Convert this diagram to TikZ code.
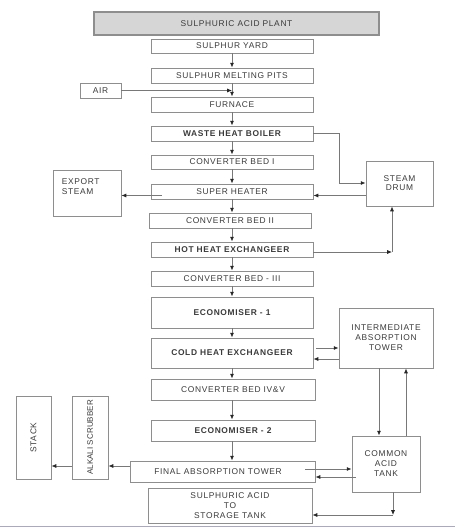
\documentclass[tikz,border=0pt]{standalone}
\usepackage{fontspec}
\setmainfont{Liberation Sans}[LetterSpace=8]
\usetikzlibrary{arrows.meta}
\definecolor{boxc}{HTML}{8E8E8E}
\definecolor{txtc}{HTML}{3A3A3A}
\definecolor{linec}{HTML}{787878}
\definecolor{titlefill}{HTML}{D6D6D6}
\definecolor{bottomc}{HTML}{A8A8CC}
\tikzset{
  box/.style={draw=boxc, line width=0.9pt, inner sep=0pt, text=txtc,
    font=\fontsize{8.4}{10}\selectfont, align=center},
  bbox/.style={box, font=\fontsize{8.4}{10}\selectfont\bfseries},
  txt/.style={text=txtc, font=\fontsize{8.4}{10}\selectfont, inner sep=0pt, align=center},
  arr/.style={draw=linec, line width=0.8pt,
    -{Latex[length=4.8pt,width=4pt,color=black!85]}},
}
\begin{document}
\begin{tikzpicture}[x=1pt,y=-1pt]
\useasboundingbox (0,0) rectangle (455,528);
% main column nodes
\node[box, fill=titlefill, line width=1.1pt, minimum width=285pt, minimum height=23pt] (title) at (236.5,23.5) {SULPHURIC ACID PLANT};
\node[box, minimum width=162pt, minimum height=14pt] (yard) at (232,46) {SULPHUR YARD};
\node[box, minimum width=162pt, minimum height=15pt] (pits) at (232,75.5) {SULPHUR MELTING PITS};
\node[box, minimum width=41pt, minimum height=15pt] (air) at (100.5,90.5) {AIR};
\node[box, minimum width=162pt, minimum height=15pt] (furnace) at (232,104.5) {FURNACE};
\node[bbox, minimum width=162pt, minimum height=15pt] (whb) at (232,133.5) {WASTE HEAT BOILER};
\node[box, minimum width=162pt, minimum height=14pt] (cb1) at (232,162) {CONVERTER BED I};
\node[box, minimum width=68pt, minimum height=46pt,
  label={[txt, anchor=north west, align=left, xshift=9pt, yshift=-9pt]north west:{EXPORT\\STEAM}}] (export) at (87,193) {};
\node[box, minimum width=67pt, minimum height=45pt] (drum) at (399.5,183.5) {\raisebox{-2pt}{\shortstack{STEAM\\DRUM}}};
\node[box, minimum width=162pt, minimum height=15pt] (sh) at (232,191.5) {SUPER HEATER};
\node[box, minimum width=162pt, minimum height=15pt] (cb2) at (230,220.5) {CONVERTER BED II};
\node[bbox, minimum width=162pt, minimum height=15pt] (hhe) at (232,249.5) {HOT HEAT EXCHANGEER};
\node[box, minimum width=162pt, minimum height=15pt] (cb3) at (232,278.5) {CONVERTER BED - III};
\node[bbox, minimum width=162pt, minimum height=31pt] (eco1) at (232,312.5) {ECONOMISER - 1};
\node[box, minimum width=94pt, minimum height=60pt] (iat) at (386,338) {INTERMEDIATE\\ABSORPTION\\TOWER};
\node[bbox, minimum width=162pt, minimum height=30pt] (che) at (232,353) {COLD HEAT EXCHANGEER};
\node[box, minimum width=164pt, minimum height=21pt] (cb4) at (233,389.5) {CONVERTER BED IV\&V};
\node[bbox, minimum width=164pt, minimum height=21pt] (eco2) at (233,430.5) {ECONOMISER - 2};
\node[box, minimum width=185pt, minimum height=21pt] (fat) at (222.5,471.5) {\hspace*{-9pt}FINAL ABSORPTION TOWER};
\node[box, minimum width=164pt, minimum height=35pt] (store) at (230,505.5) {SULPHURIC ACID\\TO\\STORAGE TANK};
\node[box, minimum width=68pt, minimum height=56pt] (cat) at (386,464) {COMMON\\ACID\\TANK};
\node[box, minimum width=35pt, minimum height=83pt] (stack) at (33.5,437.5) {};
\node[txt, rotate=90] (stacktxt) at (stack.center) {STACK};
\node[box, minimum width=36pt, minimum height=83pt] (alk) at (90,437.5) {};
\node[txt, rotate=90, font=\fontsize{8}{10}\selectfont\addfontfeature{LetterSpace=1}] (alktxt) at (alk.center) {ALKALI SCRUBBER};
% helper coordinates
\coordinate (main) at (232,0);
\coordinate (w1) at (339,183);
\coordinate (d1) at (0,195.5);
\coordinate (shx) at (162,195.5);
\coordinate (h1) at (392,252);
\coordinate (c1) at (316,348);
\coordinate (c2) at (0,359);
\coordinate (ia) at (379,0);
\coordinate (ib) at (406,0);
\coordinate (f1) at (305,469);
\coordinate (f2) at (356,477);
\coordinate (s1) at (393,515);
\coordinate (y466) at (0,466);
% main flow
\draw[arr] (yard.south -| main) -- (pits.north -| main);
\draw[arr] (pits.south -| main) -- (furnace.north -| main);
\draw[arr] (air.east) -- (air.east -| main);
\draw[arr] (furnace.south -| main) -- (whb.north -| main);
\draw[arr] (whb.south -| main) -- (cb1.north -| main);
\draw[arr] (cb1.south -| main) -- (sh.north -| main);
\draw[arr] (sh.south -| main) -- (cb2.north -| main);
\draw[arr] (cb2.south -| main) -- (hhe.north -| main);
\draw[arr] (hhe.south -| main) -- (cb3.north -| main);
\draw[arr] (cb3.south -| main) -- (eco1.north -| main);
\draw[arr] (eco1.south -| main) -- (che.north -| main);
\draw[arr] (che.south -| main) -- (cb4.north -| main);
\draw[arr] (cb4.south -| main) -- (eco2.north -| main);
\draw[arr] (eco2.south -| main) -- (fat.north -| main);
% steam side
\draw[arr] (whb.east) -| (w1) -- (w1 -| drum.west);
\draw[arr] (drum.west |- d1) -- (sh.east |- d1);
\draw[arr] (shx) -- (export.east |- shx);
\draw[arr] (hhe.east |- h1) -- (h1);
\draw[arr] (h1) -- (h1 |- drum.south);
% absorption side
\draw[arr] (c1) -- (iat.west |- c1);
\draw[arr] (iat.west |- c2) -- (che.east |- c2);
\draw[arr] (iat.south -| ia) -- (cat.north -| ia);
\draw[arr] (cat.north -| ib) -- (iat.south -| ib);
\draw[arr] (f1) -- (cat.west |- f1);
\draw[arr] (f2) -- (fat.east |- f2);
\draw[arr] (cat.south -| s1) -- (s1);
\draw[arr] (s1) -- (store.east |- s1);
\draw[arr] (fat.west |- y466) -- (alk.east |- y466);
\draw[arr] (alk.west |- y466) -- (stack.east |- y466);
% bottom rule
\draw[bottomc, line width=1.5pt] (0,526.5) -- (455,526.5);
\end{tikzpicture}
\end{document}
